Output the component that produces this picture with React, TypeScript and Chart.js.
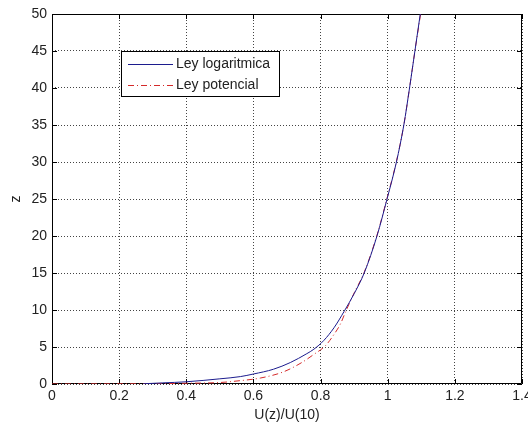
import React, { useEffect, useRef } from "react";
import { Chart, registerables } from "chart.js";

Chart.register(...registerables);

const xTicks = [0, 0.2, 0.4, 0.6, 0.8, 1, 1.2, 1.4];
const xTickLabels = ["0", "0.2", "0.4", "0.6", "0.8", "1", "1.2", "1.4"];
const yTicks = [0, 5, 10, 15, 20, 25, 30, 35, 40, 45, 50];
const yTickLabels = ["0", "5", "10", "15", "20", "25", "30", "35", "40", "45", "50"];

const seriesNames = ["Ley logaritmica", "Ley potencial"];

const logX = [0.272, 0.33, 0.4, 0.5, 0.561, 0.6, 0.66, 0.71, 0.759, 0.78, 0.81, 0.84, 0.87, 0.9, 0.93, 0.968, 0.998, 1.026, 1.048, 1.065, 1.081, 1.097];
const logZ = [0.03, 0.15, 0.3, 0.7, 1.0, 1.35, 2.0, 2.9, 4.1, 4.7, 5.9, 7.6, 9.8, 12.2, 15, 20, 25, 30, 35, 40, 45, 50];

const potX = [0, 0.1, 0.2, 0.3, 0.4, 0.5, 0.56, 0.62, 0.69, 0.744, 0.78, 0.815, 0.84, 0.859, 0.874, 0.9, 0.93, 0.968, 0.998, 1.026, 1.048, 1.065, 1.081, 1.098];
const potZ = [0, 0.01, 0.02, 0.04, 0.1, 0.2, 0.45, 0.8, 1.65, 2.9, 4.0, 5.2, 6.7, 8.1, 9.7, 12.3, 15.1, 20.1, 25.1, 30.1, 35, 40, 45, 50];

const FONT = "'Liberation Sans', Arial, Helvetica, sans-serif";

const boxPlugin = {
  id: "matlabBox",
  beforeDatasetsDraw(chart: any) {
    const { ctx, chartArea } = chart;
    const { left, right, top, bottom } = chartArea;
    const xs = chart.scales.x;
    const ys = chart.scales.y;
    ctx.save();
    ctx.strokeStyle = "#000";
    ctx.lineWidth = 1;
    ctx.beginPath();
    ctx.rect(left + 0.5, top + 0.5, right - left - 1, bottom - top - 1);
    ctx.stroke();
    const tl = 5;
    ctx.beginPath();
    xTicks.forEach((v) => {
      const px = Math.round(xs.getPixelForValue(v)) + 0.5;
      ctx.moveTo(px, bottom);
      ctx.lineTo(px, bottom - tl);
      ctx.moveTo(px, top);
      ctx.lineTo(px, top + tl);
    });
    yTicks.forEach((v) => {
      const py = Math.round(ys.getPixelForValue(v)) + 0.5;
      ctx.moveTo(left, py);
      ctx.lineTo(left + tl, py);
      ctx.moveTo(right, py);
      ctx.lineTo(right - tl, py);
    });
    ctx.stroke();
    ctx.restore();
  },
  afterDatasetsDraw(chart: any) {
    const { ctx, chartArea } = chart;
    const { left, top } = chartArea;
    ctx.save();
    const lx = left + 69;
    const ly = top + 37;
    const lw = 158;
    const lh = 45;
    ctx.fillStyle = "#fff";
    ctx.fillRect(lx, ly, lw, lh);
    ctx.strokeStyle = "#000";
    ctx.lineWidth = 1;
    ctx.strokeRect(lx + 0.5, ly + 0.5, lw, lh);
    ctx.font = "14px " + FONT;
    ctx.textBaseline = "middle";
    ctx.textAlign = "left";
    chart.data.datasets.forEach((ds: any, i: number) => {
      const cy = ly + 13 + i * 21;
      ctx.save();
      ctx.strokeStyle = ds.borderColor;
      ctx.lineWidth = 1;
      ctx.setLineDash(ds.borderDash || []);
      ctx.beginPath();
      ctx.moveTo(lx + 7, cy + 0.5);
      ctx.lineTo(lx + 52, cy + 0.5);
      ctx.stroke();
      ctx.restore();
      ctx.fillStyle = "#222";
      ctx.fillText(ds.label, lx + 55, cy);
    });
    ctx.restore();
  },
};

export default function App() {
  const ref = useRef<HTMLCanvasElement | null>(null);
  useEffect(() => {
    if (!ref.current) return;
    const chart = new Chart(ref.current, {
      type: "scatter",
      data: {
        datasets: [
          {
            label: seriesNames[0],
            data: logX.map((x, i) => ({ x, y: logZ[i] })),
            showLine: true,
            borderColor: "#1c1c8e",
            borderWidth: 1,
            pointRadius: 0,
            cubicInterpolationMode: "monotone",
          },
          {
            label: seriesNames[1],
            data: potX.map((x, i) => ({ x, y: potZ[i] })),
            showLine: true,
            borderColor: "#d42a2a",
            borderWidth: 1,
            borderDash: [6, 3, 1, 3],
            pointRadius: 0,
            cubicInterpolationMode: "monotone",
          },
        ],
      },
      options: {
        responsive: false,
        animation: false,
        layout: { padding: { left: 0, right: 6, top: 14, bottom: 0 } },
        plugins: { legend: { display: false }, tooltip: { enabled: false } },
        scales: {
          x: {
            type: "linear",
            min: 0,
            max: 1.4,
            afterBuildTicks: (s: any) => {
              s.ticks = xTicks.map((v) => ({ value: v }));
            },
            afterFit: (s: any) => {
              s.height = 41;
              s.paddingLeft = 0;
              s.paddingRight = 0;
            },
            ticks: {
              autoSkip: false,
              maxRotation: 0,
              padding: 4,
              color: "#222",
              font: { family: FONT, size: 14 },
              callback: (_v: any, i: number) => xTickLabels[i],
            },
            grid: { color: "#444", drawTicks: false, lineWidth: 1 },
            border: { display: false, dash: [1, 2] },
            title: {
              display: true,
              text: "U(z)/U(10)",
              color: "#222",
              font: { family: FONT, size: 14 },
              padding: { top: 0, bottom: 1 },
            },
          },
          y: {
            type: "linear",
            min: 0,
            max: 50,
            afterBuildTicks: (s: any) => {
              s.ticks = yTicks.map((v) => ({ value: v }));
            },
            afterFit: (s: any) => {
              s.width = 52;
              s.paddingTop = 0;
              s.paddingBottom = 0;
            },
            ticks: {
              autoSkip: false,
              padding: 5,
              color: "#222",
              font: { family: FONT, size: 14 },
              callback: (_v: any, i: number) => yTickLabels[i],
            },
            grid: { color: "#444", drawTicks: false, lineWidth: 1 },
            border: { display: false, dash: [1, 2] },
            title: {
              display: true,
              text: "z",
              color: "#222",
              font: { family: FONT, size: 14 },
              padding: { top: 8, bottom: 0 },
            },
          },
        },
      },
      plugins: [boxPlugin],
    });
    return () => chart.destroy();
  }, []);
  return (
    <div style={{ position: "fixed", left: 0, top: 0, width: 528, height: 425, background: "#fff" }}>
      <canvas ref={ref} width={528} height={425} style={{ display: "block" }} />
    </div>
  );
}
